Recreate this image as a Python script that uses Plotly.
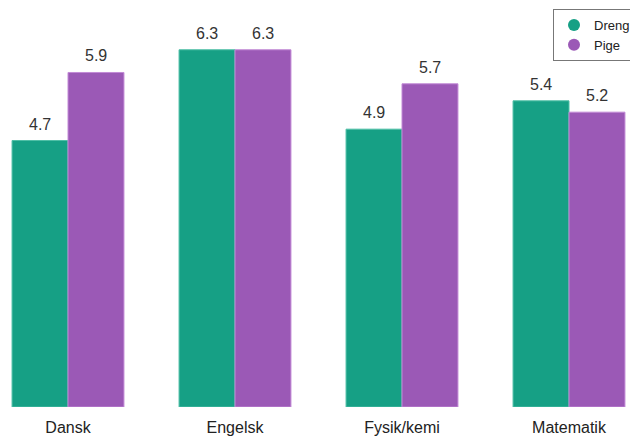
import plotly.graph_objects as go

categories = ["Dansk", "Engelsk", "Fysik/kemi", "Matematik"]
dreng = [4.7, 6.3, 4.9, 5.4]
pige = [5.9, 6.3, 5.7, 5.2]
series_names = ["Dreng", "Pige"]
colors = ["#16a085", "#9b59b6"]
edge_colors = ["#4fbfa6", "#c28ad6"]

FONT = "Liberation Sans, Arial"
W, H = 630, 428
fig = go.Figure()
for name, vals, c, ec in zip(series_names, [dreng, pige], colors, edge_colors):
    fig.add_trace(go.Bar(
        x=categories, y=vals, name=name,
        marker=dict(color=c, line=dict(color=ec, width=1)),
        showlegend=False,
    ))
for name, c in zip(series_names, colors):
    fig.add_trace(go.Scatter(
        x=[None], y=[None], mode="markers", name=name,
        marker=dict(color=c, size=8, symbol="circle"),
        showlegend=True,
    ))

# value labels above each bar
half_bar_px = 28
for shift, vals in zip([-half_bar_px, half_bar_px], [dreng, pige]):
    for cat, v in zip(categories, vals):
        fig.add_annotation(
            x=cat, y=v, text=f"{v:.1f}", showarrow=False,
            xshift=shift, yshift=6, yanchor="bottom",
            font=dict(family=FONT, size=16, color="#333333"),
        )

fig.update_layout(
    width=W, height=H,
    margin=dict(l=0, r=0, t=0, b=29, autoexpand=False),
    paper_bgcolor="white", plot_bgcolor="white",
    barmode="group", bargap=0.33, bargroupgap=0,
    font=dict(family=FONT, size=16, color="#222222"),
    legend=dict(
        x=545 / W, y=1 - 1 / 399, xanchor="left", yanchor="top",
        bordercolor="#777777", borderwidth=1, bgcolor="white",
        font=dict(size=13, color="#222222"), tracegroupgap=0,
        itemsizing="constant",
    ),
    xaxis=dict(range=[-60 / 167, (W - 60) / 167], showgrid=False, showline=False,
               ticks="", ticklabelstandoff=9,
               tickfont=dict(size=16, color="#222222")),
    yaxis=dict(range=[0, 399 / 56.7], visible=False, showgrid=False),
)

fig.write_html("out.html")
